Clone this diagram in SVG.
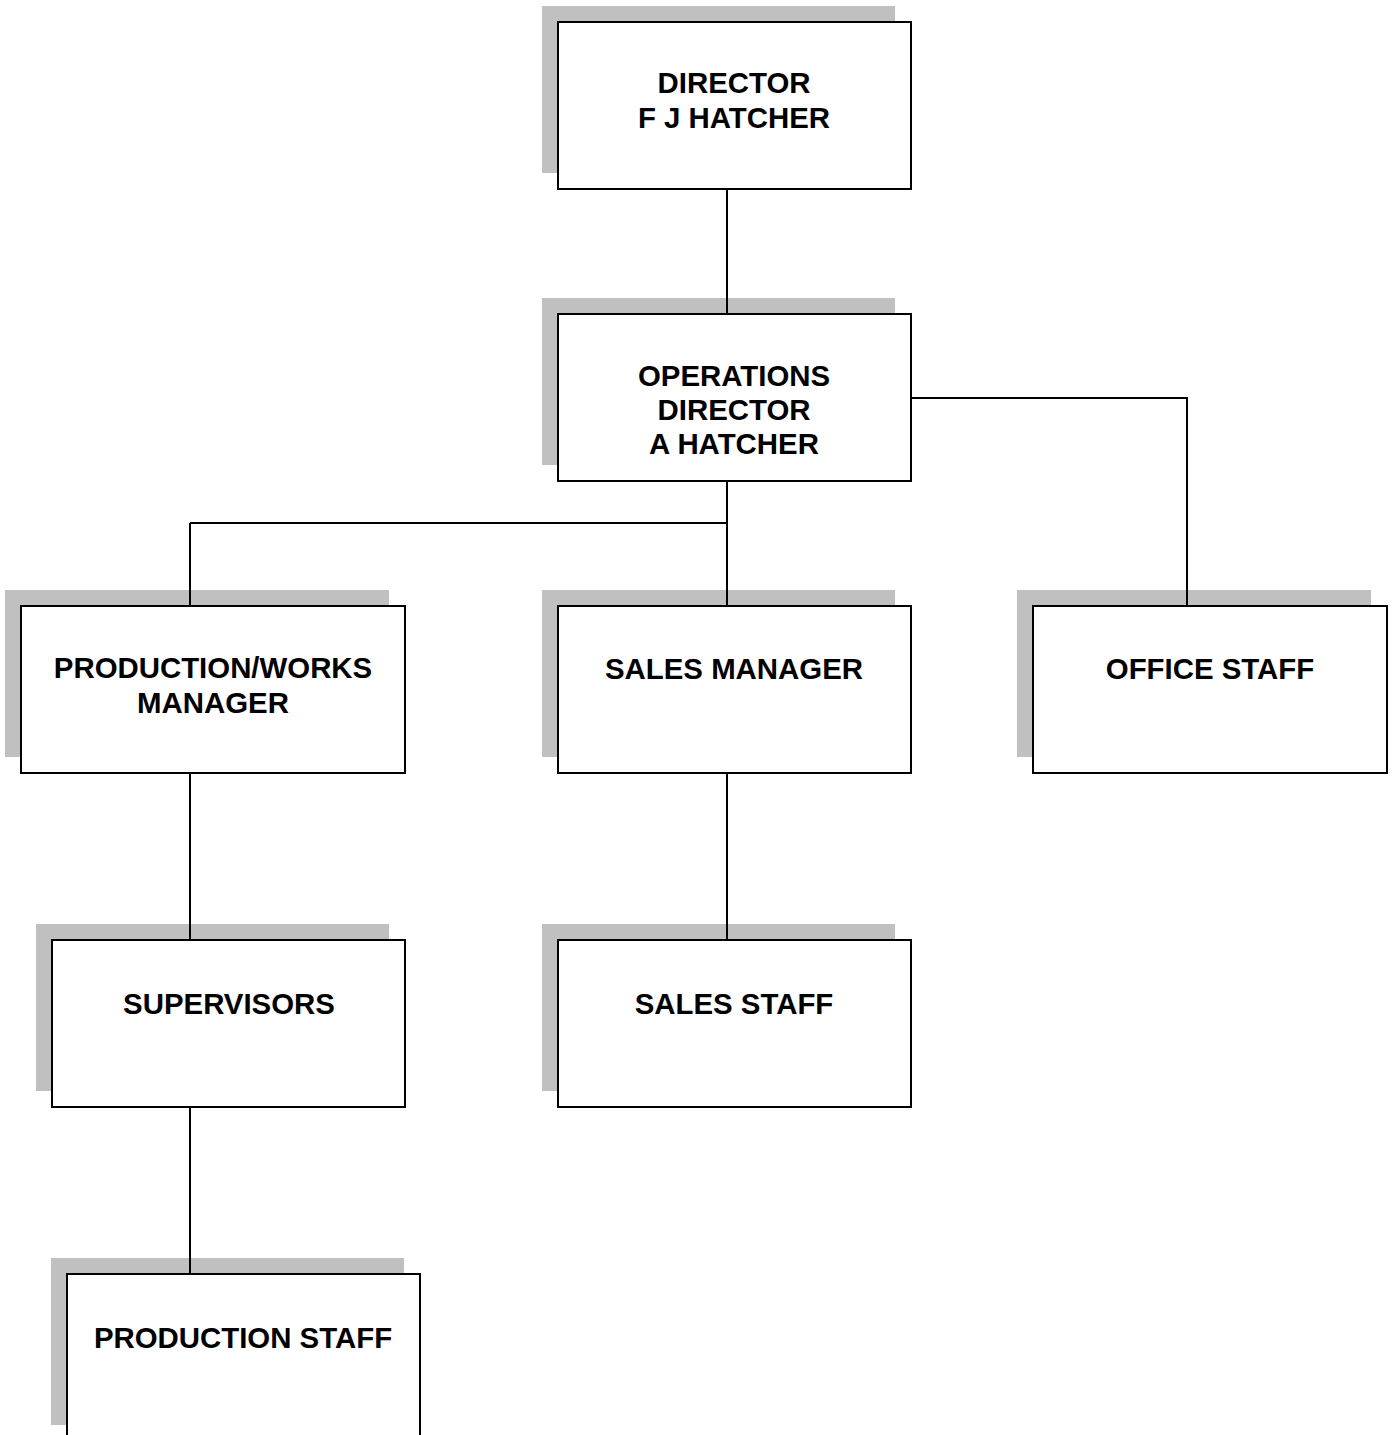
<svg xmlns="http://www.w3.org/2000/svg" width="1394" height="1435" viewBox="0 0 1394 1435">
<style>
.sh{fill:#c0c0c0}
.bx{fill:#fff;stroke:#000;stroke-width:2}
.t{font-family:"Liberation Sans",Arial,sans-serif;font-weight:bold;font-size:29.4px;fill:#000;text-anchor:middle}
.c{fill:none;stroke:#000;stroke-width:2}
</style>
<rect width="1394" height="1435" fill="#fff"/>
<g id="director">
<rect class="sh" x="542" y="6" width="353" height="167"/>
<rect class="bx" x="558" y="22" width="353" height="167"/>
<text class="t" x="734" y="93">DIRECTOR</text>
<text class="t" x="734" y="128">F J HATCHER</text>
</g>
<g id="operations">
<rect class="sh" x="542" y="298" width="353" height="167"/>
<rect class="bx" x="558" y="314" width="353" height="167"/>
<text class="t" x="734" y="386">OPERATIONS</text>
<text class="t" x="734" y="420">DIRECTOR</text>
<text class="t" x="734" y="454">A HATCHER</text>
</g>
<g id="production-works">
<rect class="sh" x="5" y="590" width="384" height="167"/>
<rect class="bx" x="21" y="606" width="384" height="167"/>
<text class="t" x="213" y="678">PRODUCTION/WORKS</text>
<text class="t" x="213" y="713">MANAGER</text>
</g>
<g id="sales-manager">
<rect class="sh" x="542" y="590" width="353" height="167"/>
<rect class="bx" x="558" y="606" width="353" height="167"/>
<text class="t" x="734" y="679">SALES MANAGER</text>
</g>
<g id="office-staff">
<rect class="sh" x="1017" y="590" width="354" height="167"/>
<rect class="bx" x="1033" y="606" width="354" height="167"/>
<text class="t" x="1210" y="679">OFFICE STAFF</text>
</g>
<g id="supervisors">
<rect class="sh" x="36" y="924" width="353" height="167"/>
<rect class="bx" x="52" y="940" width="353" height="167"/>
<text class="t" x="229" y="1014">SUPERVISORS</text>
</g>
<g id="sales-staff">
<rect class="sh" x="542" y="924" width="353" height="167"/>
<rect class="bx" x="558" y="940" width="353" height="167"/>
<text class="t" x="734" y="1014">SALES STAFF</text>
</g>
<g id="production-staff">
<rect class="sh" x="51" y="1258" width="353" height="167"/>
<rect class="bx" x="67" y="1274" width="353" height="167"/>
<text class="t" x="243" y="1348">PRODUCTION STAFF</text>
</g>
<g id="connectors">
<path class="c" d="M727 189V314"/>
<path class="c" d="M727 481V606M190 523H727M190 523V606"/>
<path class="c" d="M911 398H1187V606"/>
<path class="c" d="M190 773V940"/>
<path class="c" d="M727 773V940"/>
<path class="c" d="M190 1107V1274"/>
</g>
</svg>
